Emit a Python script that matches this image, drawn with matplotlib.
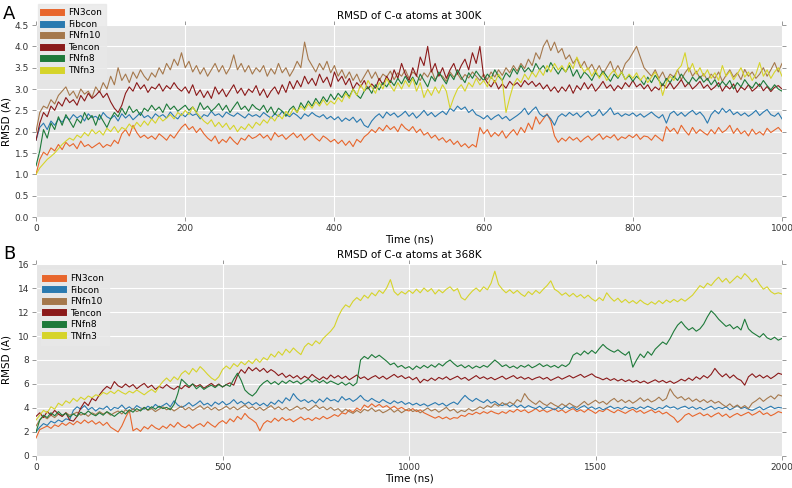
#!/usr/bin/env python3

import numpy as np
import matplotlib
matplotlib.use("Agg")
import matplotlib.pyplot as plt
from matplotlib.lines import Line2D

names = ["FN3con", "Fibcon", "FNfn10", "Tencon", "FNfn8", "TNfn3"]
colors = ["#E8662C", "#2A7AB0", "#A5784C", "#8B1A1A", "#1E7A3A", "#D6D42A"]

#- 300K run, one value every 5 ns
t300 = np.arange(0, 1001, 5)

fn3con_300 = [
    1.00,1.35,1.52,1.45,1.62,1.55,1.70,1.58,1.75,1.66,1.72,1.60,1.78,1.65,1.70,1.62,1.68,1.74,1.63,1.70,
    1.66,1.80,1.72,1.95,2.05,1.90,2.15,1.98,1.86,1.92,1.84,1.90,1.82,1.95,1.88,1.80,1.93,1.85,1.98,2.10,
    2.18,2.05,2.12,1.98,2.08,1.95,1.85,1.78,1.90,1.72,1.82,1.75,1.88,1.78,1.70,1.85,1.80,1.92,1.84,1.88,
    1.95,1.85,1.92,1.80,1.98,1.88,1.93,1.82,1.90,1.97,1.86,1.94,1.80,1.88,1.95,1.85,1.78,1.90,1.84,1.76,
    1.82,1.72,1.80,1.68,1.78,1.65,1.82,1.75,1.88,1.95,2.05,1.98,2.10,2.02,2.15,2.05,2.12,2.00,2.18,2.08,
    2.02,2.12,1.98,2.06,1.92,1.98,1.85,1.92,1.80,1.86,1.75,1.82,1.70,1.78,1.65,1.72,1.62,1.70,1.64,2.10,
    1.95,2.05,1.88,1.98,1.90,2.02,1.85,1.96,2.05,1.92,2.10,1.98,2.20,2.05,2.35,2.18,2.30,2.42,2.25,1.90,
    1.75,1.85,1.78,1.88,1.80,1.86,1.76,1.84,1.90,1.80,1.88,1.95,1.82,1.90,1.85,1.93,1.80,1.88,1.84,1.92,
    1.86,1.94,1.82,1.90,1.88,1.80,1.92,1.85,1.78,2.12,2.00,2.08,1.95,2.15,2.02,1.92,2.10,1.96,2.05,1.98,
    1.92,2.05,1.95,2.10,1.98,2.04,2.15,1.96,2.08,1.95,2.02,1.90,2.06,1.94,2.00,1.92,2.08,1.98,2.04,2.10,
    2.00]
fibcon_300 = [
    1.80,2.10,2.20,2.05,2.25,2.15,2.30,2.22,2.35,2.28,2.40,2.32,2.38,2.25,2.42,2.33,2.36,2.28,2.45,2.35,
    2.30,2.38,2.25,2.42,2.32,2.40,2.28,2.36,2.45,2.33,2.38,2.30,2.42,2.35,2.40,2.32,2.46,2.36,2.30,2.42,
    2.35,2.45,2.38,2.42,2.30,2.40,2.36,2.48,2.38,2.42,2.34,2.46,2.40,2.36,2.44,2.38,2.32,2.42,2.36,2.40,
    2.34,2.45,2.38,2.32,2.42,2.36,2.48,2.40,2.35,2.44,2.38,2.30,2.42,2.36,2.45,2.38,2.34,2.40,2.30,2.36,
    2.28,2.35,2.24,2.32,2.26,2.34,2.22,2.30,2.15,2.10,2.25,2.35,2.42,2.32,2.46,2.38,2.44,2.34,2.40,2.48,
    2.36,2.44,2.32,2.40,2.50,2.38,2.45,2.35,2.42,2.48,2.40,2.55,2.48,2.60,2.52,2.58,2.45,2.52,2.40,2.36,
    2.30,2.38,2.28,2.35,2.40,2.30,2.36,2.26,2.32,2.38,2.45,2.55,2.40,2.50,2.58,2.42,2.35,2.40,2.30,2.15,
    2.35,2.42,2.36,2.45,2.38,2.44,2.34,2.42,2.48,2.36,2.40,2.52,2.38,2.46,2.56,2.40,2.44,2.36,2.42,2.38,
    2.44,2.36,2.42,2.34,2.40,2.46,2.38,2.32,2.40,2.20,2.42,2.48,2.38,2.45,2.36,2.44,2.50,2.40,2.46,2.36,
    2.20,2.40,2.50,2.42,2.55,2.45,2.52,2.40,2.46,2.38,2.44,2.36,2.42,2.50,2.38,2.46,2.52,2.40,2.36,2.44,
    2.30]
fnfn10_300 = [
    2.00,2.45,2.60,2.55,2.75,2.65,2.85,2.95,3.05,2.85,2.95,2.78,3.00,2.88,2.95,2.80,3.05,2.92,3.15,3.00,
    3.30,3.10,3.50,3.20,3.35,3.15,3.40,3.25,3.45,3.30,3.20,3.38,3.28,3.50,3.35,3.60,3.45,3.70,3.55,3.85,
    3.50,3.65,3.40,3.55,3.35,3.50,3.30,3.45,3.60,3.40,3.55,3.35,3.50,3.80,3.45,3.60,3.40,3.55,3.35,3.50,
    3.40,3.55,3.30,3.48,3.35,3.60,3.38,3.50,3.30,3.45,3.65,3.50,4.10,3.70,3.55,3.40,3.60,3.45,3.65,3.38,
    3.55,3.30,3.45,3.25,3.40,3.20,3.35,3.15,3.30,3.45,3.25,3.40,3.20,3.35,3.28,3.42,3.22,3.38,3.30,3.45,
    3.25,3.40,3.32,3.20,3.38,3.28,3.45,3.22,3.35,3.30,3.18,3.40,3.28,3.36,3.22,3.34,3.26,3.40,3.30,3.20,
    3.35,3.22,3.40,3.28,3.45,3.32,3.50,3.38,3.55,3.42,3.60,3.48,3.70,3.55,3.85,3.70,4.00,4.15,3.90,4.10,
    3.85,3.95,3.70,3.80,3.60,3.72,3.50,3.65,3.45,3.58,3.40,3.55,3.35,3.50,3.65,3.40,3.55,3.38,3.60,3.70,
    3.85,4.00,3.75,3.50,3.40,3.30,3.45,3.25,3.40,3.20,3.35,3.28,3.45,3.22,3.38,3.50,3.30,3.42,3.25,3.36,
    3.20,3.35,3.25,3.40,3.18,3.32,3.45,3.28,3.38,3.22,3.46,3.30,3.40,3.25,3.35,3.50,3.30,3.45,3.62,3.40,
    3.60]
tencon_300 = [
    1.80,2.20,2.45,2.35,2.60,2.50,2.70,2.60,2.80,2.68,2.75,2.62,2.85,2.72,2.90,2.78,2.85,2.95,2.80,2.90,
    2.70,2.55,2.45,2.62,2.90,3.05,2.95,3.15,3.00,3.10,2.92,3.05,3.00,3.12,2.95,3.08,3.00,3.15,3.02,2.95,
    3.05,2.90,3.10,2.85,2.98,2.80,2.95,2.78,3.05,2.88,3.00,2.82,2.96,3.10,2.90,3.02,2.85,3.00,2.92,3.08,
    2.85,3.00,2.80,2.95,3.05,2.88,3.10,2.92,3.18,3.00,3.20,3.05,3.30,3.12,3.25,3.08,3.35,3.15,3.28,3.05,
    3.40,3.18,3.30,3.10,3.25,3.00,3.15,3.05,3.20,3.00,3.12,3.02,3.25,3.10,3.30,3.15,3.45,3.25,3.60,3.35,
    3.20,3.50,3.30,3.75,3.55,4.00,3.40,3.60,3.30,3.50,3.25,3.45,3.60,3.35,3.55,3.70,3.45,3.85,3.60,4.00,
    3.30,3.15,3.05,3.20,3.00,3.12,3.02,3.18,3.08,3.15,3.05,3.20,3.10,3.18,3.06,3.14,3.00,3.10,2.95,3.05,
    2.92,3.05,2.95,3.10,2.90,3.08,2.98,3.15,3.00,3.12,2.95,3.05,3.18,3.02,3.10,2.96,3.08,3.00,3.15,3.05,
    3.20,3.05,3.12,3.00,3.10,2.95,3.05,2.98,3.12,3.02,3.15,3.00,3.10,3.22,3.05,3.15,3.00,3.08,3.18,3.02,
    3.10,2.98,3.05,3.15,2.95,3.08,3.00,3.12,2.92,3.05,2.98,3.10,2.95,3.02,3.12,2.96,3.06,2.94,3.04,3.08,
    3.00]
fnfn8_300 = [
    1.20,1.55,2.05,1.85,2.20,2.05,2.35,2.15,2.40,2.25,2.10,2.30,2.20,2.45,2.28,2.38,2.15,2.40,2.25,2.10,
    2.30,2.45,2.35,2.55,2.40,2.60,2.45,2.52,2.38,2.55,2.48,2.62,2.50,2.58,2.45,2.65,2.52,2.60,2.48,2.55,
    2.62,2.50,2.58,2.45,2.68,2.52,2.60,2.48,2.56,2.66,2.50,2.62,2.45,2.58,2.70,2.52,2.60,2.48,2.64,2.55,
    2.50,2.62,2.45,2.58,2.40,2.55,2.48,2.36,2.52,2.60,2.45,2.68,2.55,2.72,2.60,2.78,2.65,2.82,2.70,2.88,
    2.75,2.90,2.80,2.95,2.82,3.00,2.86,2.78,2.95,3.05,2.90,3.10,2.98,3.15,3.05,3.20,3.08,3.25,3.12,3.30,
    3.15,3.28,3.10,3.35,3.20,3.05,3.30,3.18,3.40,3.25,3.12,3.35,3.22,3.45,3.28,3.15,3.38,3.25,3.42,3.30,
    3.20,3.35,3.25,3.45,3.30,3.20,3.38,3.28,3.48,3.35,3.55,3.40,3.50,3.38,3.60,3.45,3.55,3.40,3.62,3.48,
    3.35,3.50,3.40,3.55,3.30,3.45,3.25,3.40,3.32,3.20,3.38,3.28,3.42,3.30,3.18,3.35,3.25,3.40,3.22,3.32,
    3.18,3.30,3.22,3.10,3.28,3.15,3.32,3.20,3.08,3.25,3.15,3.30,3.20,3.35,3.22,3.12,3.28,3.18,3.30,3.16,
    3.25,3.10,3.22,3.05,3.18,3.08,3.20,3.00,3.15,3.05,3.22,3.10,3.02,3.16,3.06,3.20,3.08,2.98,3.10,3.00,
    2.95]
tnfn3_300 = [
    1.00,1.15,1.25,1.35,1.42,1.50,1.60,1.70,1.78,1.85,1.80,1.92,1.86,1.98,1.90,2.05,1.95,2.02,1.92,2.08,
    2.00,2.12,1.98,2.10,2.05,2.18,2.08,2.22,2.12,2.25,2.15,2.30,2.20,2.35,2.25,2.32,2.40,2.30,2.45,2.38,
    2.50,2.40,2.58,2.45,2.35,2.25,2.18,2.28,2.12,2.22,2.10,2.20,2.05,2.15,2.00,2.12,2.05,2.18,2.08,2.22,
    2.15,2.28,2.20,2.35,2.25,2.40,2.30,2.48,2.38,2.55,2.45,2.60,2.50,2.65,2.55,2.70,2.60,2.75,2.62,2.72,
    2.65,2.80,2.70,2.90,2.78,3.00,2.85,3.10,2.95,3.20,3.05,2.90,3.15,3.00,3.25,3.08,2.95,3.15,3.00,3.20,
    3.05,3.25,2.95,3.15,2.80,3.00,2.85,3.05,2.90,3.10,2.95,2.55,2.80,3.00,3.10,2.95,3.15,3.05,3.25,3.10,
    3.20,3.05,3.30,3.15,3.35,3.20,2.45,2.80,3.10,3.25,3.15,3.35,3.22,3.40,3.28,3.45,3.32,3.55,3.40,3.60,
    3.45,3.55,3.40,3.62,3.48,3.75,3.55,3.40,3.50,3.30,3.45,3.25,3.38,3.20,3.35,3.45,3.28,3.40,3.22,3.35,
    3.25,3.38,3.20,3.32,3.15,3.28,3.40,3.22,2.85,3.15,3.30,3.20,3.45,3.55,3.85,3.40,3.60,3.35,3.50,3.30,
    3.45,3.25,3.38,3.20,3.55,3.30,3.42,3.22,3.35,3.50,3.28,3.40,3.20,3.35,3.62,3.30,3.45,3.25,3.40,3.50,
    3.30]

#- 368K run, one value every 10 ns
t368 = np.arange(0, 2001, 10)

fn3con_368 = [
    1.50,2.20,2.35,2.50,2.30,2.60,2.45,2.75,2.55,2.80,2.60,2.90,2.70,3.00,2.75,2.95,2.65,2.85,2.55,2.80,
    2.40,2.20,2.00,2.50,3.20,3.80,2.10,2.30,2.05,2.45,2.25,2.60,2.35,2.20,2.50,2.30,2.65,2.40,2.80,2.50,
    2.35,2.60,2.30,2.55,2.70,2.45,2.85,2.60,2.40,2.75,2.95,2.70,3.10,2.85,3.30,3.05,3.55,3.20,3.00,2.75,
    2.10,2.70,2.95,2.80,3.15,2.90,3.20,2.95,3.10,2.85,3.05,3.25,3.00,3.15,2.95,3.20,3.05,3.30,3.10,3.25,
    3.45,3.30,3.60,3.50,3.85,3.65,4.00,3.80,4.25,4.05,4.35,4.10,4.30,4.05,4.20,3.95,4.15,3.90,4.05,3.85,
    3.75,3.95,3.70,3.85,3.60,3.45,3.30,3.15,3.30,3.10,3.25,3.05,3.20,3.15,3.40,3.30,3.55,3.45,3.65,3.50,
    3.70,3.55,3.75,3.60,3.50,3.70,3.55,3.80,3.65,3.90,3.70,3.85,3.60,3.75,3.95,3.70,3.85,3.65,3.80,3.95,
    3.70,3.85,3.60,3.80,3.95,3.70,3.85,3.65,3.90,3.75,3.55,3.80,3.70,3.95,3.75,3.60,3.85,3.70,3.55,3.75,
    3.90,3.65,3.80,3.55,3.70,3.85,3.60,3.75,3.50,3.65,3.40,3.20,2.80,3.05,3.40,3.55,3.30,3.45,3.60,3.35,
    3.50,3.25,3.45,3.60,3.30,3.50,3.20,3.40,3.55,3.35,3.50,3.65,3.40,3.55,3.75,3.45,3.60,3.35,3.50,3.70,
    3.60]
fibcon_368 = [
    2.00,2.40,2.70,2.55,2.90,2.75,3.00,2.85,3.10,3.00,3.80,4.10,3.90,4.20,3.85,4.05,3.75,4.00,3.90,4.15,
    3.80,4.05,3.95,4.25,3.90,4.10,3.85,4.20,4.00,3.90,4.15,3.95,4.30,4.05,4.20,4.40,4.10,4.60,4.25,4.05,
    4.20,4.45,4.15,4.35,4.60,4.25,4.40,4.15,4.50,4.30,4.55,4.25,4.40,4.70,4.35,4.55,4.30,4.50,4.25,4.45,
    4.20,4.40,4.15,4.50,4.30,4.65,4.40,4.85,4.60,5.20,4.80,4.55,4.70,4.45,4.65,4.40,4.75,4.50,4.85,4.60,
    4.70,4.50,4.95,4.65,4.80,4.55,4.75,5.05,4.70,4.55,4.80,4.60,4.45,4.70,4.50,4.35,4.60,4.40,4.55,4.30,
    4.45,4.25,4.40,4.20,4.35,4.15,4.30,4.45,4.25,4.40,4.15,4.35,4.50,4.30,4.70,5.05,4.75,4.55,4.80,4.60,
    4.45,4.70,4.40,4.55,4.30,4.20,4.35,4.10,4.30,4.05,4.25,4.00,4.20,4.05,3.95,4.15,3.90,4.10,4.00,3.85,
    4.05,3.90,4.15,3.95,4.10,3.85,4.05,4.20,3.95,4.10,3.90,4.05,3.85,4.00,4.15,3.95,4.05,3.90,4.10,3.95,
    4.05,3.90,4.10,3.95,4.15,4.00,3.85,4.05,3.95,4.20,4.00,4.10,3.90,4.05,4.15,3.95,4.10,3.90,4.05,3.85,
    4.00,4.15,3.90,4.05,3.95,4.10,3.85,4.00,4.20,3.95,4.05,3.90,3.80,3.95,4.10,3.85,4.00,4.15,3.95,4.05,
    4.00]
fnfn10_368 = [
    2.50,3.00,3.30,3.10,3.40,3.20,3.50,3.30,3.60,3.40,3.50,3.65,3.40,3.55,3.30,3.60,3.45,3.70,3.50,3.65,
    3.40,3.60,3.75,3.50,3.85,3.65,3.95,3.70,3.85,4.05,3.80,3.95,3.70,3.90,4.10,3.85,4.00,3.75,3.95,4.15,
    3.85,4.05,3.80,4.00,4.20,3.90,4.10,3.85,4.05,3.80,3.95,4.15,3.90,4.10,3.85,4.05,4.25,3.95,4.10,3.85,
    4.05,3.80,4.00,4.20,3.90,4.10,3.85,4.05,3.80,3.95,4.15,3.90,4.05,3.80,4.00,4.25,3.95,4.10,3.85,4.05,
    3.80,3.95,3.65,3.90,3.70,3.55,3.80,3.60,3.90,3.75,4.00,3.70,3.85,3.60,3.75,3.95,3.65,3.85,3.60,3.80,
    3.95,3.70,3.85,3.60,3.80,4.00,3.75,3.90,3.65,3.85,4.05,3.75,3.90,3.60,3.80,3.70,3.95,3.75,3.90,4.10,
    3.95,4.20,4.05,4.35,4.15,4.45,4.25,4.50,4.30,4.70,4.50,5.20,4.75,4.50,4.30,4.60,4.35,4.20,4.45,4.25,
    4.10,4.35,4.15,4.40,4.20,4.05,4.30,4.55,4.25,4.45,4.65,4.40,4.55,4.30,4.60,4.80,4.50,4.70,4.45,4.65,
    4.40,4.60,4.85,4.55,4.75,4.50,4.65,4.90,4.60,4.80,5.60,5.10,4.80,4.95,4.65,4.85,4.55,4.75,4.50,4.70,
    4.45,4.65,4.40,4.55,4.30,4.10,4.35,4.05,4.25,4.00,4.20,3.95,4.40,4.60,4.85,4.55,4.80,5.00,4.75,5.10,
    5.00]
tencon_368 = [
    3.30,3.60,3.20,3.70,3.40,3.80,3.50,3.30,3.60,3.00,2.90,3.30,4.00,4.50,4.20,4.80,4.60,5.10,5.50,5.80,
    5.60,6.20,5.85,5.70,6.00,5.75,5.95,5.60,5.85,6.05,5.70,5.90,5.55,5.80,5.65,5.95,5.70,5.55,5.80,5.60,
    5.90,5.70,6.00,5.80,5.95,5.65,5.85,6.05,5.80,6.00,5.75,5.95,6.10,5.90,6.70,7.20,6.90,7.40,7.10,7.35,
    7.05,7.30,6.95,7.20,7.00,6.70,6.90,6.55,6.75,6.50,6.70,6.40,6.65,6.45,6.80,6.55,6.35,6.60,6.40,6.75,
    6.50,6.70,6.45,6.65,6.35,6.55,6.75,6.45,6.60,6.35,6.55,6.70,6.45,6.65,6.40,6.60,6.80,6.55,6.70,6.45,
    6.60,6.35,6.55,6.10,6.40,6.25,6.50,6.30,6.55,6.40,6.60,6.35,6.50,6.65,6.40,6.55,6.30,6.50,6.70,6.45,
    6.60,6.40,6.55,6.35,6.50,6.65,6.40,6.55,6.70,6.45,6.60,6.40,6.55,6.35,6.50,6.60,6.40,6.55,6.30,6.45,
    6.60,6.40,6.55,6.70,6.50,6.65,6.80,6.55,6.70,6.85,6.60,6.50,6.35,6.50,6.30,6.45,6.25,6.40,6.20,6.35,
    6.15,6.30,6.10,6.25,6.05,6.20,6.35,6.15,6.30,6.10,6.25,6.05,6.20,6.40,6.25,6.50,6.30,6.60,6.40,6.70,
    6.50,6.80,7.30,6.90,6.60,6.85,6.50,6.75,6.45,6.30,5.90,6.60,6.85,6.55,6.75,6.50,6.70,6.45,6.65,6.90,
    6.80]
fnfn8_368 = [
    2.00,3.00,3.40,3.20,3.60,3.35,3.70,3.40,3.55,3.25,3.50,3.30,3.65,3.45,3.75,3.50,3.35,3.60,3.40,3.70,
    3.50,3.30,3.55,3.75,3.50,3.85,3.65,3.95,3.75,4.05,3.85,4.10,3.90,4.15,3.95,4.05,3.85,4.30,5.20,6.40,
    6.10,5.80,6.00,5.60,5.85,5.55,5.75,5.90,5.70,5.95,5.75,5.95,5.80,6.40,6.90,6.30,5.50,5.20,5.00,5.30,
    5.80,6.10,6.30,6.00,6.20,5.95,6.25,6.05,6.30,6.10,6.25,6.00,6.20,6.40,6.15,6.35,6.10,6.30,6.05,6.25,
    6.10,5.95,6.15,5.90,6.10,5.85,6.10,8.00,8.30,8.10,8.45,8.20,8.40,8.15,7.90,7.60,7.75,7.40,7.55,7.30,
    7.45,7.20,7.50,7.30,7.55,7.35,7.60,7.40,7.70,7.50,7.80,8.00,7.70,7.45,7.60,7.35,7.55,7.30,7.50,7.35,
    7.55,7.40,7.70,8.00,7.75,7.45,7.60,7.35,7.50,7.30,7.55,7.40,7.60,7.35,7.50,7.70,7.45,7.60,7.40,7.55,
    7.35,7.60,7.45,7.70,8.40,8.60,8.40,8.75,8.50,8.80,8.55,8.95,9.30,9.00,8.80,8.65,8.85,8.60,8.40,8.70,
    7.40,8.00,8.50,8.20,8.70,8.40,8.90,9.20,9.50,9.30,9.80,10.40,10.90,11.20,10.80,10.50,10.70,10.40,10.60,11.00,
    11.60,12.10,11.80,11.40,11.10,10.80,10.95,10.60,10.80,10.50,11.40,10.60,10.30,10.10,9.90,10.20,9.85,9.70,9.90,9.65,
    9.80]
tnfn3_368 = [
    3.00,3.40,3.80,3.60,4.10,3.90,4.40,4.20,4.60,4.40,4.80,4.55,4.90,4.70,5.00,4.85,5.10,5.00,5.30,5.15,
    5.40,5.20,5.50,5.30,5.15,5.40,5.25,5.50,5.30,5.10,5.35,5.55,5.30,5.80,6.20,6.50,6.20,6.60,6.35,6.85,
    7.10,6.80,7.30,7.00,7.45,7.15,6.80,6.50,6.30,6.60,7.20,7.50,7.25,7.70,7.45,7.85,7.60,7.95,7.70,8.10,
    7.80,8.20,8.00,8.50,8.25,8.70,8.40,8.90,8.60,9.00,8.70,8.45,9.10,9.40,9.20,9.60,9.35,9.80,10.10,10.40,
    10.80,11.60,12.20,12.60,12.40,12.90,13.20,12.95,13.40,13.15,13.60,13.35,13.80,13.55,14.00,14.70,13.70,13.40,13.70,13.50,
    13.80,13.55,13.90,13.60,14.00,13.70,13.95,13.50,13.85,13.60,13.90,14.10,13.75,13.95,13.20,13.00,13.40,13.75,14.00,13.70,
    14.10,13.85,14.40,15.40,14.30,13.90,13.60,13.85,13.55,13.80,13.50,13.30,13.70,13.45,13.80,13.55,13.90,14.20,14.60,13.90,
    13.70,13.40,13.60,13.30,13.55,13.25,13.45,13.15,13.40,13.10,12.90,13.20,12.95,13.60,13.20,12.90,13.15,12.80,13.05,12.75,
    12.95,12.70,13.00,12.75,12.60,12.85,12.65,12.95,12.70,13.00,12.80,13.05,12.85,13.10,12.90,13.15,13.40,13.80,14.20,14.00,
    14.40,14.20,14.60,14.90,14.50,14.80,14.40,14.70,15.00,14.75,15.20,14.90,14.50,14.80,14.30,13.90,14.10,13.70,13.50,13.60,
    13.50]

runs300 = [fn3con_300, fibcon_300, fnfn10_300, tencon_300, fnfn8_300, tnfn3_300]
runs368 = [fn3con_368, fibcon_368, fnfn10_368, tencon_368, fnfn8_368, tnfn3_368]


def style_axes(ax):
    ax.set_facecolor("#E5E5E5")
    for s in ax.spines.values():
        s.set_visible(False)
    ax.grid(True, color="white", linewidth=0.8)
    ax.set_axisbelow(True)
    ax.tick_params(axis="both", which="both", direction="out", length=3,
                   color="#888888", labelsize=6.5, labelcolor="#333333",
                   top=True, right=True, width=0.6, pad=2)


def legend(ax, anchor):
    handles = [Line2D([0], [0], color=c, lw=5) for c in colors]
    leg = ax.legend(handles, names, loc="upper left", bbox_to_anchor=anchor,
                    fontsize=6.5, handlelength=2.0, handletextpad=0.8,
                    labelspacing=0.28, borderpad=0.5, frameon=True,
                    fancybox=False)
    leg.get_frame().set_facecolor("#E8E8E8")
    leg.get_frame().set_edgecolor("#E8E8E8")
    leg.set_zorder(5)


fig = plt.figure(figsize=(7.92, 4.88), dpi=100)
axA = fig.add_axes([0.0455, 0.5553, 0.9419, 0.3934])
axB = fig.add_axes([0.0455, 0.0656, 0.9419, 0.3934])

for ys, c in zip(runs300, colors):
    axA.plot(t300, ys, color=c, lw=0.8)
style_axes(axA)
axA.set_xlim(0, 1000)
axA.set_ylim(0, 4.5)
axA.set_yticks(np.arange(0, 4.51, 0.5))
axA.set_xticks(np.arange(0, 1001, 200))
axA.set_title("RMSD of C-α atoms at 300K", fontsize=7.5, pad=4)
axA.set_xlabel("Time (ns)", fontsize=7.5, labelpad=1)
axA.set_ylabel("RMSD (A)", fontsize=7.5)
axA.yaxis.set_label_coords(-0.033, 0.5)
legend(axA, (-0.003, 1.135))

for ys, c in zip(runs368, colors):
    axB.plot(t368, ys, color=c, lw=0.8)
style_axes(axB)
axB.set_xlim(0, 2000)
axB.set_ylim(0, 16)
axB.set_yticks(np.arange(0, 17, 2))
axB.set_xticks(np.arange(0, 2001, 500))
axB.set_title("RMSD of C-α atoms at 368K", fontsize=7.5, pad=4)
axB.set_xlabel("Time (ns)", fontsize=7.5, labelpad=1)
axB.set_ylabel("RMSD (A)", fontsize=7.5)
axB.yaxis.set_label_coords(-0.033, 0.5)
legend(axB, (0.0, 0.995))

fig.text(0.004, 0.972, "A", fontsize=13, va="center")
fig.text(0.004, 0.48, "B", fontsize=13, va="center")

fig.savefig("out.png", dpi=100)
